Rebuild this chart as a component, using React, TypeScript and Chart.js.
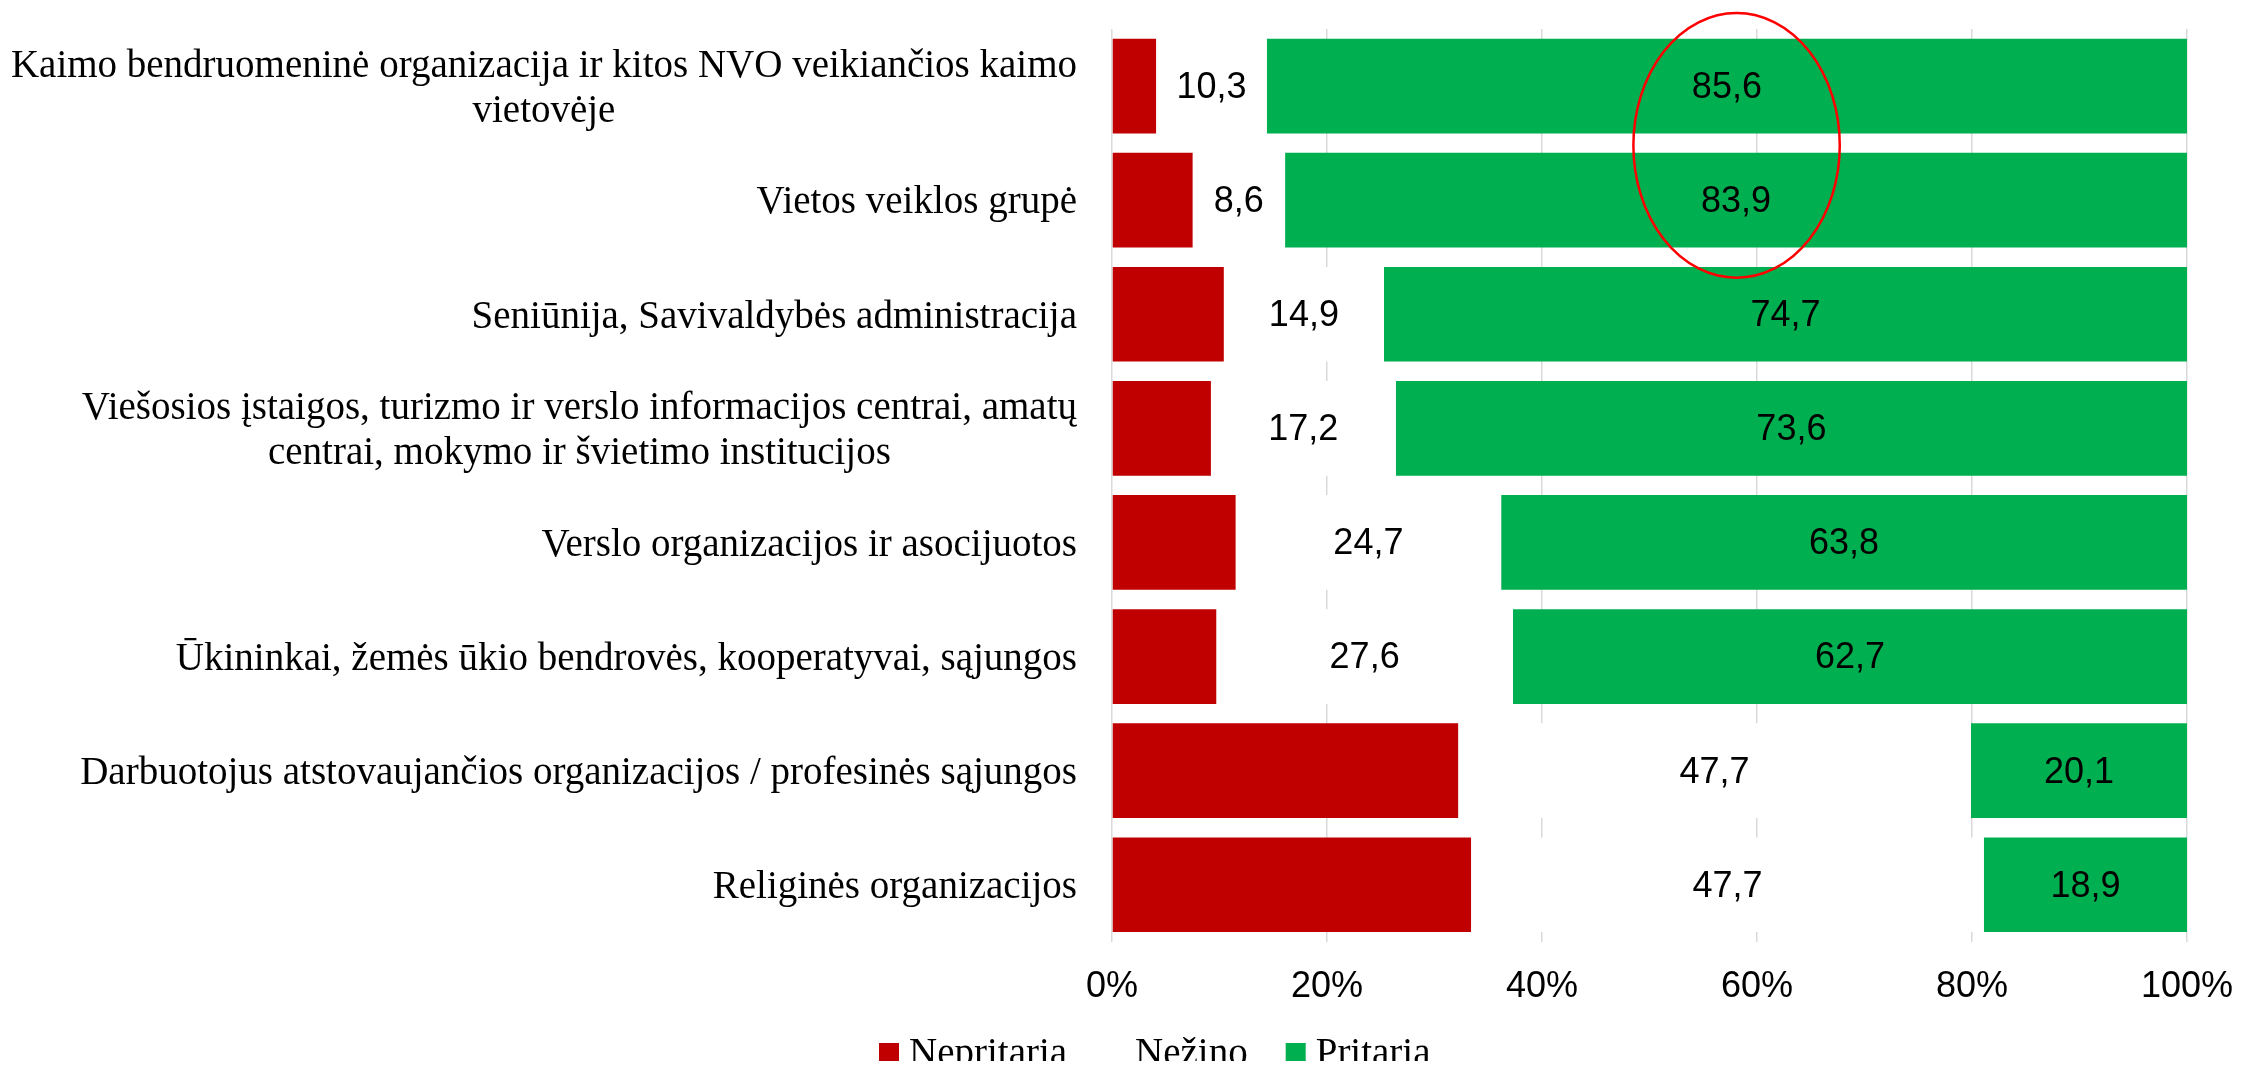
import React, { useEffect, useRef } from 'react';
import { Chart, registerables } from 'chart.js';

Chart.register(...registerables);

const categories: string[][] = [
  ['Kaimo bendruomeninė organizacija ir kitos NVO veikiančios kaimo', 'vietovėje'],
  ['Vietos veiklos grupė'],
  ['Seniūnija, Savivaldybės administracija'],
  ['Viešosios įstaigos, turizmo ir verslo informacijos centrai, amatų', 'centrai, mokymo ir švietimo institucijos'],
  ['Verslo organizacijos ir asocijuotos'],
  ['Ūkininkai, žemės ūkio bendrovės, kooperatyvai, sąjungos'],
  ['Darbuotojus atstovaujančios organizacijos / profesinės sąjungos'],
  ['Religinės organizacijos'],
];
const seriesNames = ['Nepritaria', 'Nežino', 'Pritaria'];
const nepritaria = [4.1, 7.5, 10.4, 9.2, 11.5, 9.7, 32.2, 33.4];
const nezino = [10.3, 8.6, 14.9, 17.2, 24.7, 27.6, 47.7, 47.7];
const pritaria = [85.6, 83.9, 74.7, 73.6, 63.8, 62.7, 20.1, 18.9];
const xTickStep = 20;
const xMin = 0;
const xMax = 100;
// red ellipse annotation (data units: x in %, y in category index)
const highlight = { x: 58.1, y: 0.52, rx: 9.6, ry: 1.16 };

const colors = ['#C00000', '#FFFFFF', '#00B050'];
const serif = '"Liberation Serif", "Times New Roman", serif';
const sans = '"Liberation Sans", Arial, sans-serif';

const fmt = (v: number) => v.toFixed(1).replace('.', ',');

const customPlugin = {
  id: 'customDraw',
  afterDatasetsDraw(chart: any) {
    const ctx = chart.ctx;
    ctx.save();
    ctx.font = `36px ${sans}`;
    ctx.fillStyle = '#000000';
    ctx.textAlign = 'center';
    ctx.textBaseline = 'middle';
    [1, 2].forEach((di) => {
      const meta = chart.getDatasetMeta(di);
      meta.data.forEach((el: any, i: number) => {
        const v = chart.data.datasets[di].data[i];
        const cx = (el.x + el.base) / 2;
        ctx.fillText(fmt(v), cx, el.y + 2);
      });
    });
    ctx.restore();
  },
  afterDraw(chart: any) {
    const ctx = chart.ctx;
    const xs = chart.scales.x;
    const ys = chart.scales.y;
    const area = chart.chartArea;
    // category labels
    ctx.save();
    ctx.font = `39px ${serif}`;
    ctx.fillStyle = '#000000';
    ctx.textBaseline = 'middle';
    ctx.textAlign = 'center';
    const right = area.left - 35;
    const lh = 45;
    chart.data.labels.forEach((lab: any, i: number) => {
      const lines: string[] = Array.isArray(lab) ? lab : [lab];
      const w = Math.max(...lines.map((l) => ctx.measureText(l).width));
      const cx = right - w / 2;
      const cy = ys.getPixelForValue(i);
      const y0 = cy - ((lines.length - 1) * lh) / 2;
      lines.forEach((l, k) => ctx.fillText(l, cx, y0 + k * lh + 3));
    });
    ctx.restore();

    // ellipse annotation
    ctx.save();
    const ecx = xs.getPixelForValue(highlight.x);
    const ecy = ys.getPixelForValue(highlight.y);
    const erx = xs.getPixelForValue(highlight.x + highlight.rx) - ecx;
    const ery = ys.getPixelForValue(highlight.y + highlight.ry) - ecy;
    ctx.beginPath();
    ctx.ellipse(ecx, ecy, Math.abs(erx), Math.abs(ery), 0, 0, Math.PI * 2);
    ctx.strokeStyle = '#FF0000';
    ctx.lineWidth = 2.5;
    ctx.stroke();
    ctx.restore();

    // legend
    ctx.save();
    ctx.font = `39px ${serif}`;
    ctx.textBaseline = 'middle';
    ctx.textAlign = 'left';
    const box = 20;
    const gapText = 10;
    const gapItem = 38;
    let x = area.left - 233;
    const ly = chart.height - 8;
    chart.data.datasets.forEach((d: any) => {
      ctx.fillStyle = d.backgroundColor;
      ctx.fillRect(x, ly - box / 2, box, box);
      ctx.fillStyle = '#000000';
      ctx.fillText(d.label, x + box + gapText, ly + 2);
      x += box + gapText + ctx.measureText(d.label).width + gapItem;
    });
    ctx.restore();
  },
};

export default function App() {
  const ref = useRef<HTMLCanvasElement | null>(null);
  useEffect(() => {
    if (!ref.current) return;
    const series = [nepritaria, nezino, pritaria];
    const chart = new Chart(ref.current, {
      type: 'bar',
      data: {
        labels: categories,
        datasets: series.map((d, i) => ({
          label: seriesNames[i],
          data: d,
          backgroundColor: colors[i],
          borderWidth: 0,
          barPercentage: 0.83,
          categoryPercentage: 1,
        })),
      },
      options: {
        indexAxis: 'y',
        responsive: false,
        animation: false,
        layout: { padding: { left: 1104, top: 21, right: 47, bottom: 28 } },
        plugins: {
          legend: { display: false },
          tooltip: { enabled: false },
        },
        scales: {
          x: {
            stacked: true,
            min: xMin,
            max: xMax,
            border: { display: false },
            grid: { color: '#D9D9D9', lineWidth: 1.5, drawTicks: false },
            afterFit: (s: any) => {
              s.paddingLeft = 0;
              s.paddingRight = 0;
            },
            ticks: {
              stepSize: xTickStep,
              padding: 24,
              color: '#000000',
              font: { family: sans, size: 36 },
              callback: (v: any) => `${v}%`,
            },
          },
          y: {
            stacked: true,
            display: false,
          },
        },
      },
      plugins: [customPlugin],
    });
    return () => chart.destroy();
  }, []);
  return (
    <div style={{ width: 2226, height: 1053 }}>
      <canvas ref={ref} width={2226} height={1053} style={{ display: 'block' }} />
    </div>
  );
}
